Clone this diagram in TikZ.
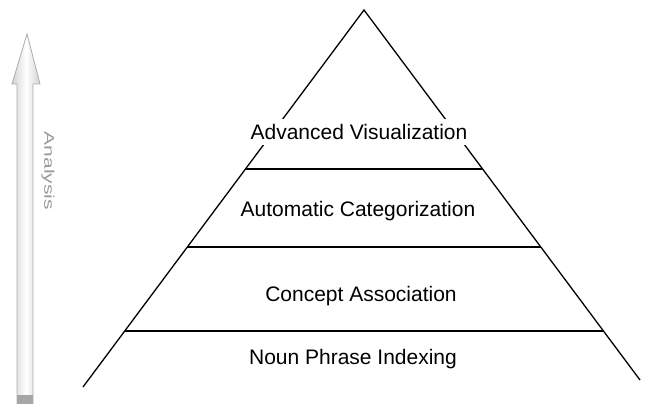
\documentclass[tikz,border=0pt]{standalone}
\usepackage{fontspec}
\setmainfont{Liberation Sans}
\usepackage{tikz}
\usetikzlibrary{shadings}

\begin{document}
\begin{tikzpicture}[
  x=1pt, y=-1pt,
  every node/.style={font=\fontsize{21}{25}\selectfont},
  edge/.style={line width=1.3pt, black},
  layer/.style={line width=1.3pt, black},
  level/.style={fill=white, inner xsep=2pt, inner ysep=5pt, anchor=center},
  bigarrow/.style={draw=gray!65, line width=0.8pt, left color=gray!35,
                   right color=gray!35, middle color=white}
]
\useasboundingbox (0,0) rectangle (651,404);

% --- Pyramid outline (open at the base) ---
\coordinate (apex)  at (364,10);
\coordinate (lfoot) at (83,387);
\coordinate (rfoot) at (640,380);
\draw[edge] (lfoot) -- (apex) -- (rfoot);

% --- Layer separators ---
\coordinate (l1) at (246,169); \coordinate (r1) at (482,169);
\coordinate (l2) at (187,247); \coordinate (r2) at (541,247);
\coordinate (l3) at (125,331); \coordinate (r3) at (603,331);
\draw[layer] (l1) -- (r1);
\draw[layer] (l2) -- (r2);
\draw[layer] (l3) -- (r3);

% --- Layer labels (white boxes break the sloped edges) ---
\node[level] (vis)   at (359,132) {Advanced Visualization};
\node[level] (cat)   at (358,211) {Automatic Categorization};
\node[level] (assoc) at (361,296) {Concept Association};
\node[level] (noun)  at (353,359) {Noun Phrase Indexing};

% --- Analysis arrow ---
\draw[bigarrow] (17,404) -- (17,84) -- (12,84) -- (27,34) -- (40,84)
  -- (33,84) -- (33,404);
\fill[gray!70] (17,395) rectangle (33,404);
\node[rotate=-90, text=gray!80, inner sep=0pt] (analysis) at (48,171)
  {\fontsize{14}{16}\selectfont\scalebox{1.5}[1]{Analysis}};

\end{tikzpicture}
\end{document}
